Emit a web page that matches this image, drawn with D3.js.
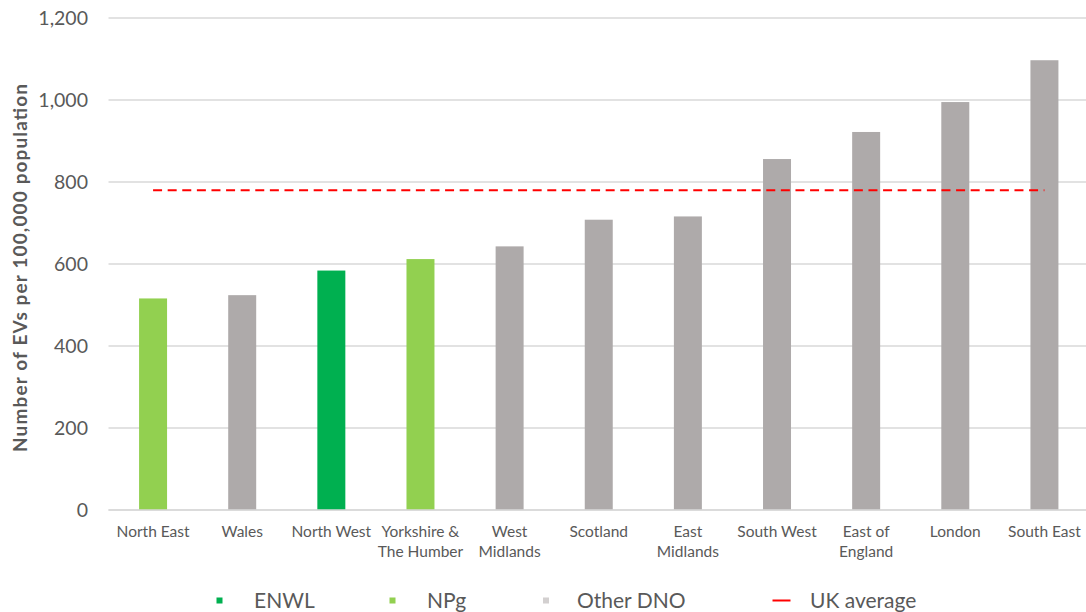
<!DOCTYPE html>
<html>
<head>
<meta charset="utf-8">
<script src="https://cdn.jsdelivr.net/npm/d3@7"></script>
<style>
  html, body { margin: 0; padding: 0; background: #fff; }
  svg { display: block; font-family: Lato, "Open Sans", sans-serif; }
</style>
</head>
<body>
<svg id="chart" width="1086" height="612"></svg>
<script>
// Regions (label lines) and EVs per 100,000 population
const regions = [
  ["North East"], ["Wales"], ["North West"], ["Yorkshire &", "The Humber"],
  ["West", "Midlands"], ["Scotland"], ["East", "Midlands"], ["South West"],
  ["East of", "England"], ["London"], ["South East"]
];
const evsPer100k = [516, 524, 584, 612, 643, 708, 716, 856, 922, 995, 1097];
const operator = ["NPg", "Other DNO", "ENWL", "NPg", "Other DNO", "Other DNO",
  "Other DNO", "Other DNO", "Other DNO", "Other DNO", "Other DNO"];
const ukAverage = 780;
const yTicks = [0, 200, 400, 600, 800, 1000, 1200];
const legendItems = ["ENWL", "NPg", "Other DNO", "UK average"];

const colours = { "ENWL": "#00B050", "NPg": "#92D050", "Other DNO": "#AEAAAA" };
const textColour = "#595959";

const svg = d3.select("#chart");
const plot = { left: 108.5, right: 1089, top: 18, bottom: 510 };

const keys = regions.map(r => r.join(" "));
const x = d3.scaleBand().domain(keys).range([plot.left, plot.right])
  .paddingInner(0.686).paddingOuter(0.343);
const y = d3.scaleLinear().domain([0, 1200]).range([plot.bottom, plot.top]);

// Horizontal gridlines
svg.append("g").selectAll("line").data(yTicks).join("line")
  .attr("x1", plot.left).attr("x2", 1086)
  .attr("y1", d => y(d)).attr("y2", d => y(d))
  .attr("stroke", "#D9D9D9").attr("stroke-width", 1.5);

// Y tick labels
svg.append("g").selectAll("text").data(yTicks).join("text")
  .attr("x", 88).attr("y", d => y(d)).attr("dy", "0.35em")
  .attr("text-anchor", "end").attr("fill", textColour)
  .style("font-size", "19.5px")
  .text(d3.format(","));

// Y axis title
svg.append("text")
  .attr("transform", `translate(27,268) rotate(-90)`)
  .attr("text-anchor", "middle").attr("fill", textColour)
  .attr("textLength", 368).attr("lengthAdjust", "spacing")
  .style("font-size", "19px").style("font-weight", "bold")
  .text("Number of EVs per 100,000 population");

// Bars
svg.append("g").selectAll("rect").data(evsPer100k).join("rect")
  .attr("x", (d, i) => x(keys[i])).attr("width", x.bandwidth())
  .attr("y", d => y(d)).attr("height", d => y(0) - y(d))
  .attr("fill", (d, i) => colours[operator[i]]);

// Baseline
svg.append("line")
  .attr("x1", plot.left).attr("x2", 1086)
  .attr("y1", y(0)).attr("y2", y(0))
  .attr("stroke", "#D9D9D9").attr("stroke-width", 1.5);

// UK average dashed line
svg.append("line")
  .attr("x1", x(keys[0]) + x.bandwidth() / 2)
  .attr("x2", x(keys[keys.length - 1]) + x.bandwidth() / 2)
  .attr("y1", y(ukAverage)).attr("y2", y(ukAverage))
  .attr("stroke", "#FF0000").attr("stroke-width", 2)
  .attr("stroke-dasharray", "9,5.6");

// Category labels
const xl = svg.append("g").selectAll("text").data(regions).join("text")
  .attr("x", (d, i) => x(keys[i]) + x.bandwidth() / 2)
  .attr("y", 537).attr("text-anchor", "middle").attr("fill", textColour)
  .style("font-size", "15.5px");
xl.selectAll("tspan").data(d => d).join("tspan")
  .attr("x", function () { return d3.select(this.parentNode).attr("x"); })
  .attr("dy", (d, i) => i === 0 ? 0 : 20)
  .text(d => d);

// Legend
const legendX = [219.5, 392.5, 546, 781.5];
const legendGap = [34.5, 34.5, 31, 28.5];
const lg = svg.append("g").selectAll("g").data(legendItems).join("g")
  .attr("transform", (d, i) => `translate(${legendX[i]},600.5)`);
lg.each(function (d, i) {
  const g = d3.select(this);
  if (d === "UK average") {
    g.append("line").attr("x1", -9).attr("x2", 9).attr("y1", 0).attr("y2", 0)
      .attr("stroke", "#FF0000").attr("stroke-width", 2);
  } else {
    g.append("rect").attr("x", -3).attr("y", -3).attr("width", 6).attr("height", 6)
      .attr("fill", colours[d]).attr("opacity", d === "Other DNO" ? 0.55 : 1);
  }
  g.append("text").attr("x", legendGap[i])
    .attr("y", 0).attr("dy", "0.35em").attr("fill", textColour)
    .style("font-size", "21px").text(d);
});
</script>
</body>
</html>
